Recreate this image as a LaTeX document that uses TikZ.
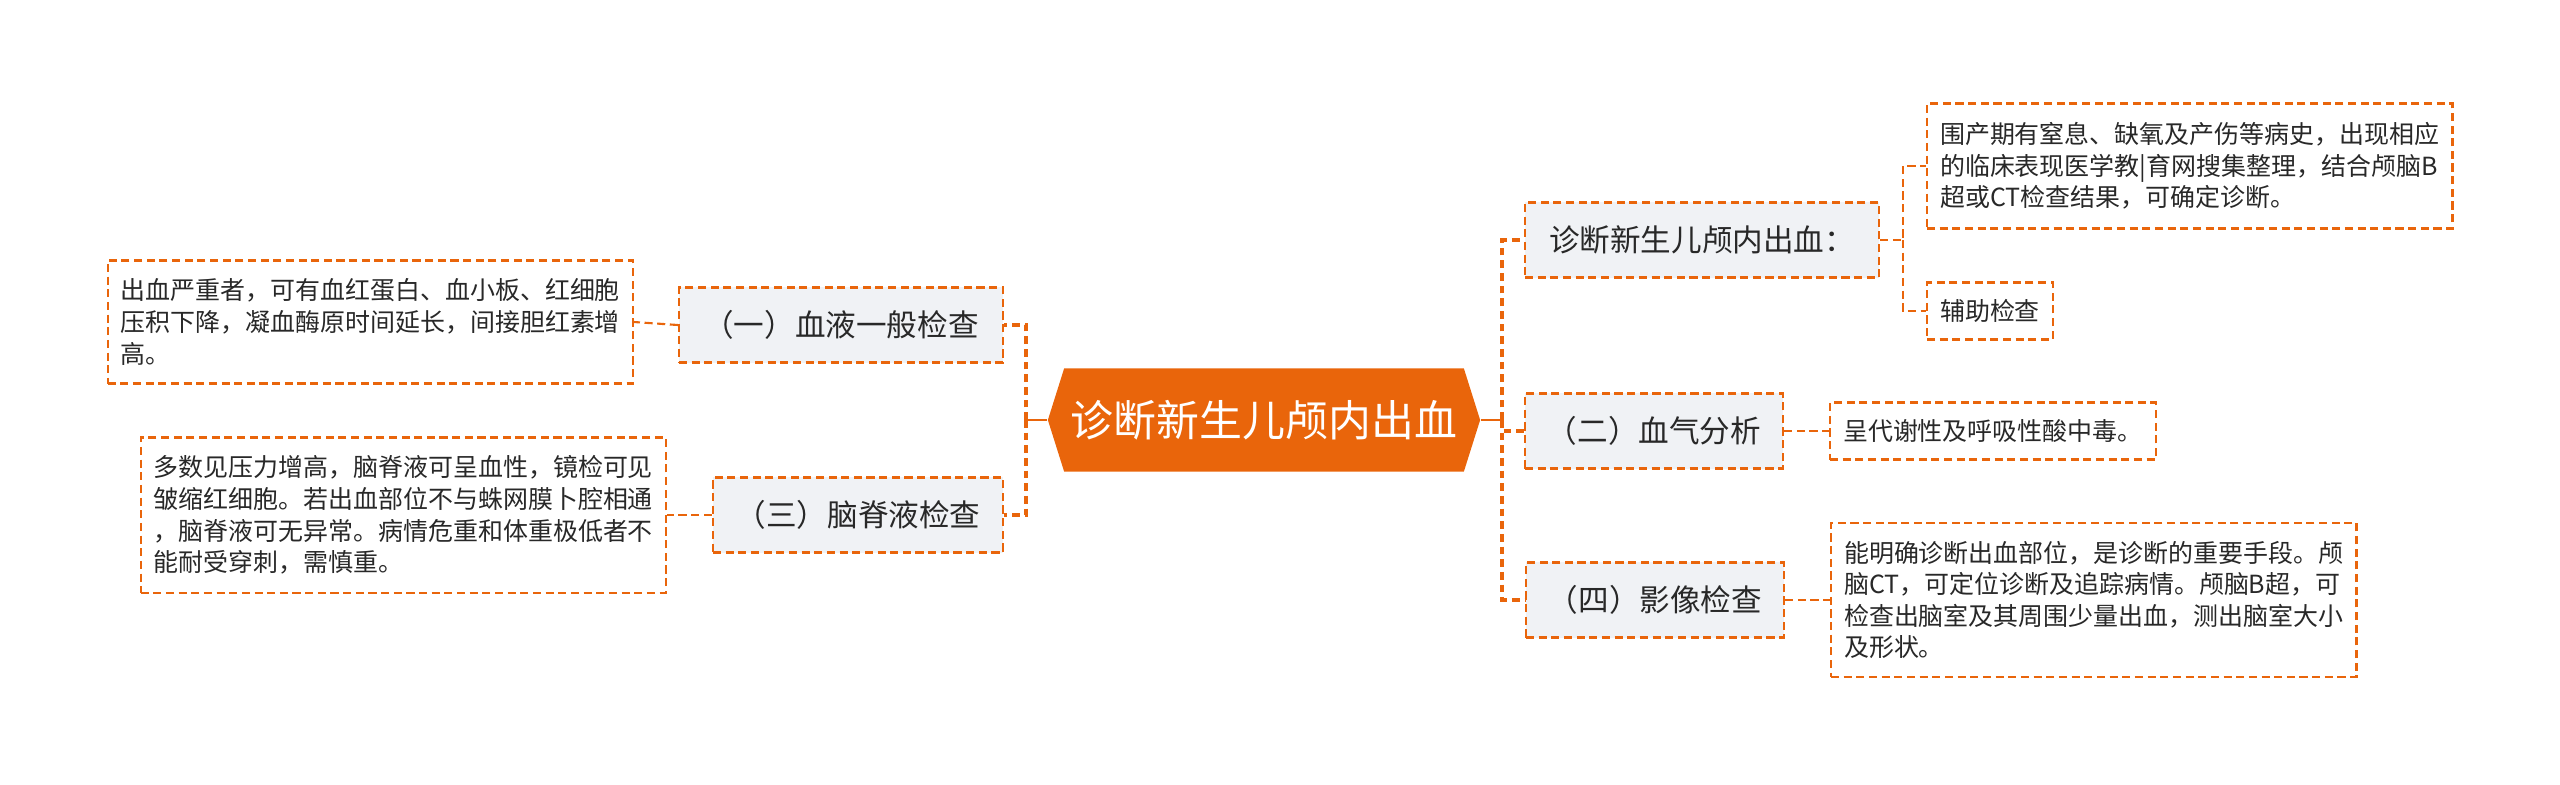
\documentclass[tikz,border=0pt]{standalone}
\usepackage{fontspec}
\setmainfont{Noto Sans CJK SC}
\usepackage{tikz}
\usetikzlibrary{shapes.symbols}
\usepackage{xcolor}
\definecolor{mmorange}{RGB}{233,101,11}
\definecolor{mmgray}{RGB}{240,242,245}
\definecolor{mmtext}{RGB}{40,40,40}
\tikzset{
  topic/.style={draw=mmorange, line width=0.6pt, dash pattern=on 2.3pt off 1.3pt, fill=mmgray, text=mmtext,
    font=\fontsize{8.7}{10}\selectfont, inner sep=0pt, minimum height=0.75cm},
  leaf/.style={draw=mmorange, line width=0.6pt, dash pattern=on 2.3pt off 1.3pt, fill=white, text=mmtext,
    font=\fontsize{7.1}{9}\selectfont, align=left, inner xsep=0.13cm, inner ysep=0pt},
  rootlink/.style={draw=mmorange, line width=0.6pt},
  trunk/.style={draw=mmorange, line width=0.9pt, dash pattern=on 2.2pt off 1.4pt},
  twig/.style={draw=mmorange, line width=0.6pt, dash pattern=on 2.3pt off 1.3pt},
}
\begin{document}
\begin{tikzpicture}[x=0.01cm,y=-0.01cm]
	\useasboundingbox (0,0) rectangle (2560,784);
	% centre
	\node[name=root, shape=signal, signal to=east and west, signal pointer angle=145, fill=mmorange, text=white,
	minimum width=4.32cm, minimum height=1.03cm, inner sep=0pt, font=\fontsize{12.2}{14}\selectfont] at (1264,420) {诊断新生儿颅内出血};
	% right side
	\node[topic, name=r1, minimum width=3.54cm] at (1702,240) {诊断新生儿颅内出血：};
	\node[topic, name=r2, minimum width=2.58cm] at (1654,431) {（二）血气分析};
	\node[topic, name=r3, minimum width=2.58cm] at (1655,600) {（四）影像检查};
	% left side
	\node[topic, name=l1, minimum width=3.24cm] at (841,325) {（一）血液一般检查};
	\node[topic, name=l2, minimum width=2.90cm] at (858,515) {（三）脑脊液检查};
	% leaves
	\node[leaf, name=rd1, anchor=west, minimum height=1.25cm] at (1926,166) {围产期有窒息、缺氧及产伤等病史，出现相应\\的临床表现医学教|育网搜集整理，结合颅脑B\\超或CT检查结果，可确定诊断。};
	\node[leaf, name=rd2, anchor=west, minimum height=0.57cm] at (1926,311) {辅助检查};
	\node[leaf, name=rd3, anchor=west, minimum height=0.57cm] at (1829,431) {呈代谢性及呼吸性酸中毒。};
	\node[leaf, name=rd4, anchor=west, minimum height=1.54cm] at (1830,600) {能明确诊断出血部位，是诊断的重要手段。颅\\脑CT，可定位诊断及追踪病情。颅脑B超，可\\检查出脑室及其周围少量出血，测出脑室大小\\及形状。};
	\node[leaf, name=ld1, anchor=east, minimum height=1.23cm] at (634,322) {出血严重者，可有血红蛋白、血小板、红细胞\\压积下降，凝血酶原时间延长，间接胆红素增\\高。};
	\node[leaf, name=ld2, anchor=east, minimum height=1.55cm] at (667,515) {多数见压力增高，脑脊液可呈血性，镜检可见\\皱缩红细胞。若出血部位不与蛛网膜卜腔相通\\，脑脊液可无异常。病情危重和体重极低者不\\能耐受穿刺，需慎重。};
	% connectors
	\coordinate (rj) at (1502,420);
	\coordinate (lj) at (1026,420);
	\coordinate (r1j) at (1903,240);
	\draw[rootlink] (root.east) -- (rj);
	\draw[rootlink] (root.west) -- (lj);
	\foreach \n in {r1,r2,r3} \draw[trunk] (rj) |- (\n.west);
	\foreach \n in {l1,l2} \draw[trunk] (lj) |- (\n.east);
	\draw[twig] (r1.east) -- (r1j) |- (rd1.west);
	\draw[twig] (r1j) |- (rd2.west);
	\draw[twig] (r2.east) -- (rd3.west);
	\draw[twig] (r3.east) -- (rd4.west);
	\draw[twig] (l1.west) -- (ld1.east);
	\draw[twig] (l2.west) -- (ld2.east);
\end{tikzpicture}
\end{document}
